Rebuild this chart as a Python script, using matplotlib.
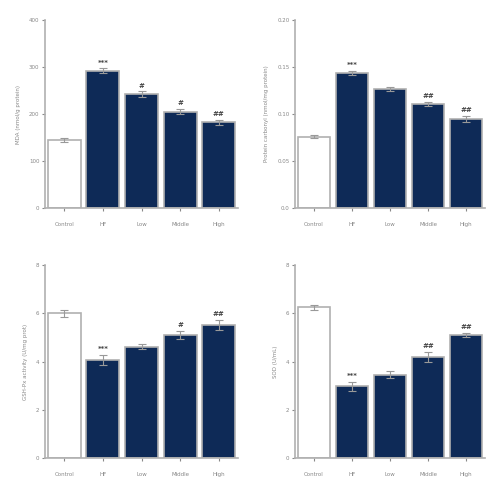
import numpy as np
import matplotlib
matplotlib.use("Agg")
import matplotlib.pyplot as plt

groups = ["Control", "HF", "Low", "Middle", "High"]

# panel A
a_vals = [145, 292, 242, 205, 182]
a_err = [4, 5, 6, 6, 6]
a_marks = ["", "***", "#", "#", "##"]
# panel B
b_vals = [0.076, 0.144, 0.127, 0.111, 0.095]
b_err = [0.002, 0.002, 0.002, 0.002, 0.003]
b_marks = ["", "***", "", "##", "##"]
# panel C
c_vals = [6.0, 4.07, 4.62, 5.1, 5.52]
c_err = [0.15, 0.2, 0.1, 0.15, 0.2]
c_marks = ["", "***", "", "#", "##"]
# panel D
d_vals = [6.25, 2.97, 3.45, 4.2, 5.1]
d_err = [0.1, 0.2, 0.15, 0.2, 0.1]
d_marks = ["", "***", "", "##", "##"]

panels = [
    (a_vals, a_err, a_marks, [0, 100, 200, 300, 400], ["0", "100", "200", "300", "400"], "MDA (nmol/g protein)"),
    (b_vals, b_err, b_marks, [0, 0.05, 0.10, 0.15, 0.20], ["0.0", "0.05", "0.10", "0.15", "0.20"], "Protein carbonyl (nmol/mg protein)"),
    (c_vals, c_err, c_marks, [0, 2, 4, 6, 8], ["0", "2", "4", "6", "8"], "GSH-Px activity (U/mg prot)"),
    (d_vals, d_err, d_marks, [0, 2, 4, 6, 8], ["0", "2", "4", "6", "8"], "SOD (U/mL)"),
]

rects = [
    [0.09, 0.584, 0.386, 0.376],
    [0.59, 0.584, 0.38, 0.376],
    [0.09, 0.084, 0.386, 0.386],
    [0.59, 0.084, 0.38, 0.386],
]

navy = "#0e2a57"
grey = "#b0b0b0"

fig = plt.figure(figsize=(5, 5), dpi=100)
x = np.arange(len(groups))
for (vals, errs, marks, ticks, tlabels, ylab), r in zip(panels, rects):
    ax = fig.add_axes(r)
    colors = ["white"] + [navy] * 4
    ax.bar(x, vals, width=0.85, color=colors, edgecolor=grey, linewidth=1.2, zorder=2)
    ax.errorbar(x, vals, yerr=errs, fmt="none", ecolor="#999999", elinewidth=0.8,
                capsize=3, capthick=0.8, zorder=3)
    top = ticks[-1]
    for i, m in enumerate(marks):
        if m:
            ax.text(x[i], vals[i] + errs[i] + top * 0.015, m, ha="center", va="bottom",
                    fontsize=5, fontweight="bold", color="#444444")
    ax.set_xlim(-0.5, 4.5)
    ax.set_ylim(0, top)
    ax.set_yticks(ticks)
    ax.set_yticklabels(tlabels)
    ax.set_xticks(x)
    ax.set_xticklabels(groups)
    ax.tick_params(labelsize=4, colors="#888888", length=2, width=0.8, pad=8)
    ax.tick_params(axis="y", pad=2)
    ax.set_ylabel(ylab, fontsize=4, color="#888888", labelpad=6)
    for s in ["top", "right"]:
        ax.spines[s].set_visible(False)
    for s in ["left", "bottom"]:
        ax.spines[s].set_color(grey)
        ax.spines[s].set_linewidth(1.2)

fig.savefig("out.png", dpi=100)
